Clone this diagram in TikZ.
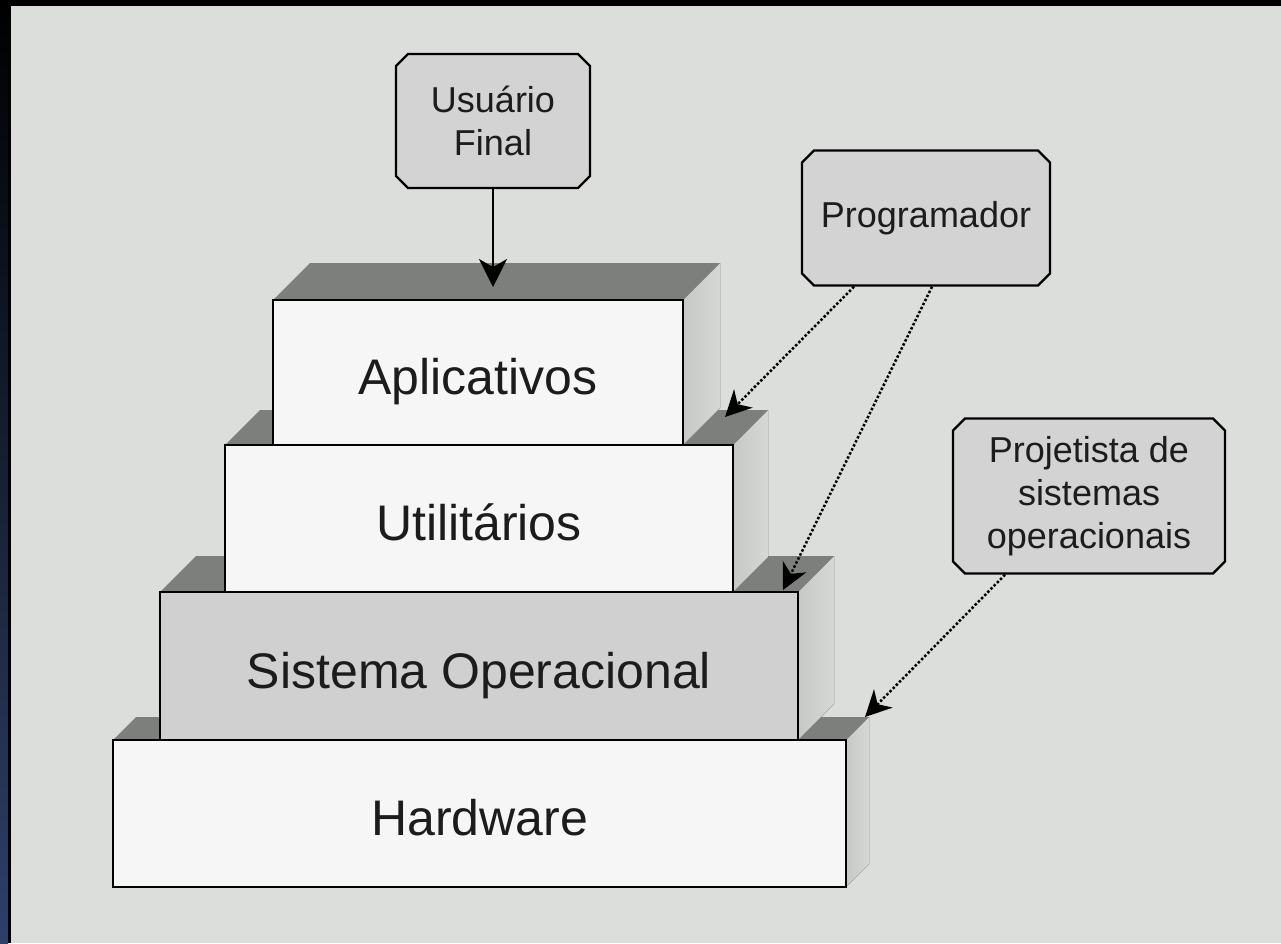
\documentclass[tikz,border=0pt]{standalone}
\usepackage{fontspec}
\setmainfont{Liberation Sans}
\usetikzlibrary{arrows.meta,shapes.misc}
\definecolor{bgc}{RGB}{220,222,219}
\definecolor{topc}{RGB}{124,127,124}
\definecolor{sidel}{RGB}{198,200,198}
\definecolor{sider}{RGB}{214,216,214}
\definecolor{frontc}{RGB}{246,246,246}
\definecolor{soc}{RGB}{208,208,208}
\definecolor{callc}{RGB}{211,211,211}
\definecolor{txtc}{RGB}{28,28,28}
\definecolor{edgeblue}{RGB}{44,64,104}
\begin{document}
\begin{tikzpicture}[x=1pt,y=-1pt,
  layerbox/.style={draw=black, line width=2.6pt, fill=frontc, text=txtc,
    inner sep=0pt, text height=44pt, text depth=0pt, font=\fontsize{50}{60}\selectfont},
  topface/.style={fill=topc},
  sideface/.style={left color=sidel, right color=sider},
  callout/.style={chamfered rectangle, chamfered rectangle xsep=6pt,
    chamfered rectangle ysep=6pt, draw=black, line width=2.4pt, fill=callc,
    text=txtc, align=center, inner sep=0pt, font=\fontsize{36}{43}\selectfont},
  solidarrow/.style={line width=2pt, -{Stealth[length=28pt,width=28pt,inset=8pt]}},
  dotarrow/.style={line width=2.5pt, dash pattern=on 2.5pt off 2pt, black,
    -{Stealth[length=26pt,width=26pt,inset=8pt]}}
]
\useasboundingbox (0,0) rectangle (1281,943);
% background and frame
\fill[bgc] (0,0) rectangle (1281,943);
\fill[black] (0,0) rectangle (1281,6);
\shade[top color=black, bottom color=edgeblue] (0,0) rectangle (8,943);
\fill[black] (8,0) rectangle (11,943);

% Hardware
\fill[topface] (113,740) -- (846,740) -- (869,717) -- (136,717) -- cycle;
\fill[sideface] (846,740) -- (869,717) -- (869,864) -- (846,887) -- cycle;
\node[layerbox, minimum width=733pt, minimum height=147pt] (hw) at (479.5,813.5) {Hardware};

% Sistema Operacional
\fill[topface] (160,592) -- (798,592) -- (834,556) -- (196,556) -- cycle;
\fill[sideface] (798,592) -- (834,556) -- (834,704) -- (798,740) -- cycle;
\node[layerbox, fill=soc, minimum width=638pt, minimum height=148pt] (so) at (479,666) {Sistema Operacional};

% Utilitarios
\fill[topface] (225,445) -- (733,445) -- (768,410) -- (260,410) -- cycle;
\fill[sideface] (733,445) -- (768,410) -- (768,557) -- (733,592) -- cycle;
\node[layerbox, minimum width=508pt, minimum height=147pt] (ut) at (479,518.5) {Utilitários};

% Aplicativos
\fill[topface] (273,300) -- (683,300) -- (720,263) -- (310,263) -- cycle;
\fill[sideface] (683,300) -- (720,263) -- (720,408) -- (683,445) -- cycle;
\node[layerbox, minimum width=410pt, minimum height=145pt] (ap) at (478,372.5) {Aplicativos};

% callouts
\node[callout, minimum width=194pt, minimum height=134pt] (user) at (493,121) {Usuário\\Final};
\node[callout, minimum width=248pt, minimum height=135pt] (prog) at (926,218) {Programador};
\node[callout, minimum width=272pt, minimum height=155pt] (proj) at (1089,496) {Projetista de\\sistemas\\operacionais};

% arrow end points
\coordinate (ua) at (493,287);
\coordinate (pa1) at (725,417);
\coordinate (pa2) at (783,590);
\coordinate (ja) at (865,717);
\coordinate (p1) at ([xshift=-72pt]prog.south);
\coordinate (p2) at ([xshift=6pt]prog.south);
\coordinate (j1) at ([xshift=-84pt]proj.south);

\draw[solidarrow] (user.south) -- (ua);
\draw[dotarrow] (p1) -- (pa1);
\draw[dotarrow] (p2) -- (pa2);
\draw[dotarrow] (j1) -- (ja);
\end{tikzpicture}
\end{document}
